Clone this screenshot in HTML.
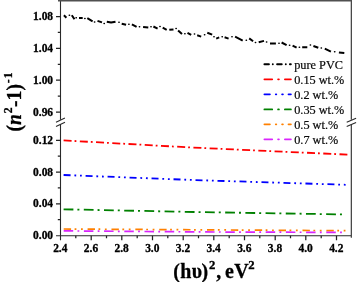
<!DOCTYPE html>
<html><head><meta charset="utf-8"><title>chart</title>
<style>
html,body{margin:0;padding:0;background:#fff;}
svg{display:block;}
text{font-family:"Liberation Serif",serif;}
.t{font-weight:bold;font-size:11.7px;fill:#000;stroke:#000;stroke-width:0.3px;}
.l{font-size:12.1px;fill:#0a0a0a;stroke:#0a0a0a;stroke-width:0.2px;}
.a{font-weight:bold;font-size:21px;fill:#000;stroke:#000;stroke-width:0.3px;}
</style></head><body>
<svg width="357" height="282" viewBox="0 0 357 282">
<rect width="357" height="282" fill="#fff"/>
<g stroke="#2a2a2a" stroke-width="1.1" fill="none">
<path d="M60.5 119.8V0M351.3 0V119.8"/>
<path stroke="#505050" stroke-width="1.4" d="M58.0 0.7H351.85"/>
<path d="M60.5 124.2V240.2M56.0 235.7H351.3M351.3 124.4V237.7"/>
<path d="M56 122.3L64.9 118M56 126.5L65 122.2"/>
<path d="M346.7 122.2L356.1 118.2M346.7 126.5L356.1 122.4"/>
</g>
<g stroke="#222" stroke-width="1.25">
<path d="M56.0 16.5H60.5M56.0 48.35H60.5M56.0 80.2H60.5M56.0 112.0H60.5M56.0 140.25H60.5M56.0 172.0H60.5M56.0 203.75H60.5M57.8 32.4H60.5M57.8 64.3H60.5M57.8 96.1H60.5M57.8 156.1H60.5M57.8 187.9H60.5M57.8 219.6H60.5M91.2 235.7v4.5M121.8 235.7v4.5M152.5 235.7v4.5M183.2 235.7v4.5M213.8 235.7v4.5M244.5 235.7v4.5M275.2 235.7v4.5M305.8 235.7v4.5M336.5 235.7v4.5M75.8 235.7v2.5M106.5 235.7v2.5M137.2 235.7v2.5M167.8 235.7v2.5M198.5 235.7v2.5M229.2 235.7v2.5M259.8 235.7v2.5M290.5 235.7v2.5M321.2 235.7v2.5"/></g>
<g class="t" text-anchor="end">
<text transform="translate(53.1,20.1) scale(0.98,1)">1.08</text>
<text transform="translate(53.1,52.0) scale(0.98,1)">1.04</text>
<text transform="translate(53.1,83.8) scale(0.98,1)">1.00</text>
<text transform="translate(53.1,115.6) scale(0.98,1)">0.96</text>
<text transform="translate(53.1,143.8) scale(0.98,1)">0.12</text>
<text transform="translate(53.1,175.6) scale(0.98,1)">0.08</text>
<text transform="translate(53.1,207.3) scale(0.98,1)">0.04</text>
<text transform="translate(53.1,239.1) scale(0.98,1)">0.00</text>
</g><g class="t" text-anchor="middle">
<text transform="translate(60.3,251.8) scale(0.98,1)">2.4</text>
<text transform="translate(91.0,251.8) scale(0.98,1)">2.6</text>
<text transform="translate(121.6,251.8) scale(0.98,1)">2.8</text>
<text transform="translate(152.3,251.8) scale(0.98,1)">3.0</text>
<text transform="translate(183.0,251.8) scale(0.98,1)">3.2</text>
<text transform="translate(213.6,251.8) scale(0.98,1)">3.4</text>
<text transform="translate(244.3,251.8) scale(0.98,1)">3.6</text>
<text transform="translate(275.0,251.8) scale(0.98,1)">3.8</text>
<text transform="translate(305.6,251.8) scale(0.98,1)">4.0</text>
<text transform="translate(336.3,251.8) scale(0.98,1)">4.2</text>
</g>
<g fill="none" stroke-width="1.8" stroke-linecap="butt">
<path stroke="#000" stroke-width="2" stroke-linecap="butt" stroke-linejoin="round" d="M63.9 15.3L66.4 17.7M71.8 15.3L74.5 19.3M79.0 18.0L82.7 18.0M87.3 18.1L92.6 21.3M97.5 20.9L102.0 22.4M106.8 21.7L111.1 22.6L115.5 21.7M121.7 23.8L126.1 24.8M131.9 24.3L136.6 26.9M143.1 27.1L148.3 27.6M153.4 26.5L157.6 28.6M162.7 27.7L166.7 29.9M169.3 29.8L173.5 29.4M178.1 30.4L182.0 34.0M187.5 32.8L191.2 34.9M197.2 35.3L201.2 36.6M207.3 32.8L212.2 34.6M216.2 38.6L219.2 37.3M224.6 37.3L228.6 38.6M235.1 36.6L242.7 40.6M249.2 38.4L253.1 41.2M258.7 42.2L264.0 40.9M270.0 43.4L275.9 43.4M281.6 42.5L286.6 45.1M292.6 45.6L296.6 47.6M302.2 47.2L307.3 47.2M313.4 46.0L318.3 47.8M324.8 48.7L330.9 51.6M338.9 52.5L344.3 53.0"/><path stroke="#000" stroke-width="1.5" stroke-linecap="round" d="M69.25 15.2h0.3M76.05 17.8h0.3M84.75 18.6h0.3M94.45 22h0.3M104.05 23.6h0.3M118.85 22.3h0.3M128.75 24.3h0.3M139.35 26.8h0.3M150.85 26.8h0.3M159.85 26.5h0.3M175.95 28.6h0.3M184.75 33.8h0.3M194.35 33.9h0.3M204.45 34.8h0.3M213.85 36.8h0.3M222.05 36.8h0.3M231.85 36.8h0.3M246.15 40.3h0.3M255.35 42.5h0.3M266.45 42h0.3M278.85 43.2h0.3M289.45 45.3h0.3M299.25 47.2h0.3M310.25 45.1h0.3M321.15 48h0.3M334.55 51.8h0.3"/>
<path stroke="#f00" stroke-dasharray="8 3 1.8 3.45" d="M63.6 140.4L191.2 147.5L347.4 154.6"/>
<path stroke="#00f" stroke-dasharray="7 3.8 1.8 3.8 1.8 3.8" d="M63.6 175L195.7 180.1L346.4 184.8"/>
<path stroke="#008000" stroke-dasharray="9.8 4 2 4.4" d="M63.6 209.3L200 212.1L343 214.4"/>
<path stroke="#ff8000" stroke-width="1.7" stroke-dasharray="7.4 3.5 1.8 4.6 1.8 4.78" d="M63.7 229L347 230.7"/>
<path stroke="#d926fc" stroke-width="1.7" stroke-dasharray="9.5 4.3 1.8 4.6" d="M63.7 230.9L215 232L343 232.4"/>
</g>
<g fill="none" stroke-width="1.8" stroke-linecap="round">
<path stroke="#000" stroke-width="1.9" d="M264.4 64.3H268.95M272.8 64.3H272.81M277.1 64.3H281.75M285.8 64.3H285.81M289.9 64.3H290.85"/>
<path stroke="#f00" d="M264.4 79.3H272.20M278.1 79.3H278.90M284.9 79.3H290.90"/>
<path stroke="#00f" d="M264.4 94.3H269.90M275.8 94.3H276.30M282.1 94.3H282.90M288.5 94.3H290.90"/>
<path stroke="#008000" d="M264.4 109.4H272.20M278.1 109.4H278.90M284.9 109.4H290.90"/>
<path stroke="#ff8000" d="M264.4 124.3H269.90M275.8 124.3H276.30M282.1 124.3H282.90M288.5 124.3H290.90"/>
<path stroke="#d926fc" d="M264.4 139.3H272.20M278.1 139.3H278.90M284.9 139.3H290.90"/>
</g>
<g class="l">
<text transform="translate(294.2,68.7) scale(1.015,1)">pure PVC</text>
<text transform="translate(294.2,83.7) scale(1.015,1)">0.15 wt.%</text>
<text transform="translate(294.2,98.6) scale(1.015,1)">0.2 wt.%</text>
<text transform="translate(294.2,113.6) scale(1.015,1)">0.35 wt.%</text>
<text transform="translate(294.2,128.7) scale(1.015,1)">0.5 wt.%</text>
<text transform="translate(294.2,143.8) scale(1.015,1)">0.7 wt.%</text>
</g>
<text class="a" style="font-size:21px" transform="translate(173.3,278) scale(0.95,1)">(</text>
<text class="a" style="font-size:21px" transform="translate(180.3,278) scale(0.95,1)">h</text>
<text class="a" style="font-size:21px" transform="translate(191.7,278) scale(0.95,1)">υ</text>
<text class="a" style="font-size:21px" transform="translate(201.6,278) scale(0.95,1)">)</text>
<text class="a" style="font-size:13.5px" transform="translate(208.9,269.3) scale(0.95,1)">2</text>
<text class="a" style="font-size:21px" transform="translate(216.3,278) scale(0.95,1)">,</text>
<text class="a" style="font-size:21px" transform="translate(225.0,278) scale(0.95,1)">e</text>
<text class="a" style="font-size:21px" transform="translate(234.3,278) scale(0.95,1)">V</text>
<text class="a" style="font-size:13.5px" transform="translate(248.3,269.3) scale(0.95,1)">2</text>
<text class="a" transform="translate(20.8,131.5) rotate(-90) scale(0.93,1)">(<tspan font-style="italic">n</tspan><tspan dy="-8.8" dx="1" font-size="12.5">2</tspan><tspan dy="8.8" dx="0.3">-1</tspan><tspan dx="0.3">)</tspan><tspan dy="-9" dx="0.8" font-size="12.5">-</tspan><tspan dx="1.2" font-size="12.5">1</tspan></text>
</svg>
</body></html>
